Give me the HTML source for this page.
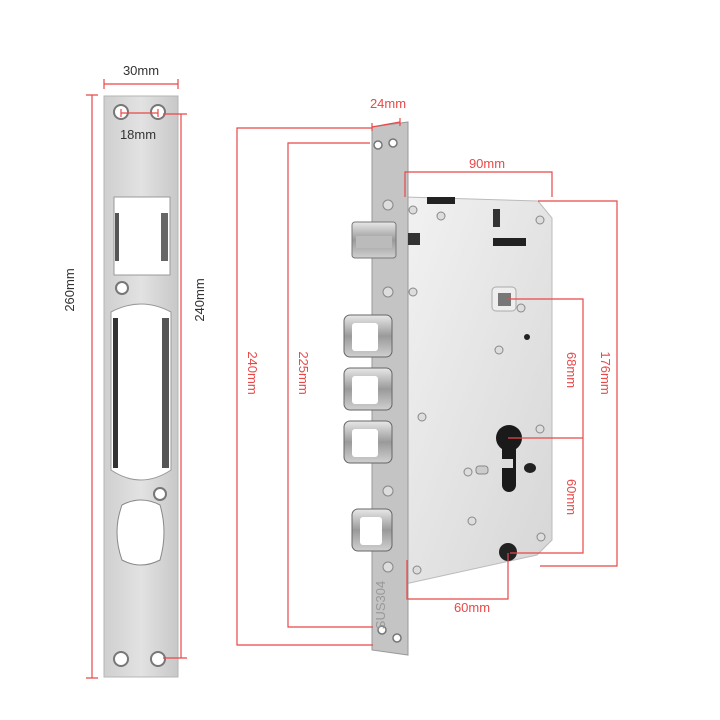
<!DOCTYPE html>
<html><head><meta charset="utf-8"><style>
html,body{margin:0;padding:0;background:#fff;width:720px;height:720px;overflow:hidden}
svg{display:block}
text{font-family:"Liberation Sans",sans-serif;font-size:13px}
</style></head><body>
<svg width="720" height="720" viewBox="0 0 720 720">
<defs>
<linearGradient id="st" x1="0" x2="1"><stop offset="0" stop-color="#cfcfcf"/><stop offset="0.5" stop-color="#e2e2e2"/><stop offset="1" stop-color="#c8c8c8"/></linearGradient>
<linearGradient id="cs" x1="0" x2="1" y1="0" y2="1"><stop offset="0" stop-color="#f2f2f2"/><stop offset="1" stop-color="#d6d6d6"/></linearGradient>
<linearGradient id="bl" x1="0" x2="0" y1="0" y2="1"><stop offset="0" stop-color="#e8e8e8"/><stop offset="0.5" stop-color="#9a9a9a"/><stop offset="1" stop-color="#d0d0d0"/></linearGradient>
</defs>
<!-- strike plate -->
<rect x="104" y="96" width="74" height="581" fill="url(#st)" stroke="#b5b5b5"/>
<g fill="#fff" stroke="#777" stroke-width="2">
<circle cx="121" cy="112" r="7"/><circle cx="158" cy="112" r="7"/>
<circle cx="121" cy="659" r="7"/><circle cx="158" cy="659" r="7"/>
<circle cx="122" cy="288" r="6"/><circle cx="160" cy="494" r="6"/>
</g>
<rect x="114" y="197" width="56" height="78" fill="#fff" stroke="#999"/>
<rect x="115" y="213" width="4" height="48" fill="#555"/><rect x="161" y="213" width="7" height="48" fill="#666"/>
<path d="M111 312 Q141 296 171 312 L171 470 Q141 490 111 470 Z" fill="#fff" stroke="#999"/>
<rect x="113" y="318" width="5" height="150" fill="#333"/><rect x="162" y="318" width="7" height="150" fill="#555"/>
<path d="M122 505 Q141 495 160 505 Q168 532 160 560 Q141 570 122 560 Q112 532 122 505 Z" fill="#fff" stroke="#888"/>
<!-- strike dims -->
<g stroke="#e84848" stroke-width="1.2" fill="none">
<path d="M104 84H178M104 79V89M178 79V89"/>
<path d="M121 113H158M121 109V117M158 109V117"/>
<path d="M92 95V678M86 95H98M86 678H98"/>
<path d="M181 114V658M163 114H187M163 658H187"/>
</g>
<text x="141" y="75" text-anchor="middle" fill="#333">30mm</text>
<text x="138" y="139" text-anchor="middle" fill="#333">18mm</text>
<text transform="translate(74,290) rotate(-90)" text-anchor="middle" fill="#333">260mm</text>
<text transform="translate(204,300) rotate(-90)" text-anchor="middle" fill="#333">240mm</text>
<!-- case -->
<path d="M405 197 L538 201 L552 218 L552 540 L537 555 L405 584 Z" fill="url(#cs)" stroke="#bbb"/>
<!-- faceplate -->
<path d="M372 127 L408 122 L408 655 L372 650 Z" fill="#c4c4c4" stroke="#999"/>
<g fill="#fff" stroke="#777" stroke-width="1.5">
<circle cx="378" cy="145" r="4"/><circle cx="393" cy="143" r="4"/>
<circle cx="382" cy="630" r="4"/><circle cx="397" cy="638" r="4"/>
</g>
<g fill="#ddd" stroke="#888"><circle cx="388" cy="205" r="5"/><circle cx="388" cy="292" r="5"/><circle cx="388" cy="491" r="5"/><circle cx="388" cy="567" r="5"/></g>
<text transform="translate(385,605) rotate(-90)" text-anchor="middle" fill="#999" font-size="10">SUS304</text>
<!-- lock bolts (in front) -->
<rect x="352" y="222" width="44" height="36" rx="3" fill="url(#bl)" stroke="#777"/>
<rect x="356" y="236" width="36" height="12" fill="#bbb"/>
<g fill="url(#bl)" stroke="#666">
<rect x="344" y="315" width="48" height="42" rx="6"/>
<rect x="344" y="368" width="48" height="42" rx="6"/>
<rect x="344" y="421" width="48" height="42" rx="6"/>
<rect x="352" y="509" width="40" height="42" rx="6"/>
</g>
<g fill="#fff"><rect x="352" y="323" width="26" height="28" rx="3"/><rect x="352" y="376" width="26" height="28" rx="3"/><rect x="352" y="429" width="26" height="28" rx="3"/><rect x="360" y="517" width="22" height="28" rx="3"/></g>
<!-- case details -->
<rect x="427" y="197" width="28" height="7" fill="#222"/>
<rect x="493" y="209" width="7" height="18" fill="#333"/>
<rect x="493" y="238" width="33" height="8" fill="#222"/>
<rect x="408" y="233" width="12" height="12" fill="#333"/>
<rect x="492" y="287" width="24" height="24" rx="4" fill="#eee" stroke="#aaa"/>
<rect x="498" y="293" width="13" height="13" fill="#777"/>
<circle cx="509" cy="438" r="13" fill="#1a1a1a"/>
<rect x="502" y="438" width="14" height="54" rx="7" fill="#1a1a1a"/>
<rect x="502" y="459" width="11" height="9" fill="#ddd"/>
<rect x="476" y="466" width="12" height="8" rx="3" fill="#ccc" stroke="#888"/>
<ellipse cx="530" cy="468" rx="6" ry="5" fill="#222"/>
<circle cx="508" cy="552" r="9" fill="#222"/>
<g fill="#ddd" stroke="#888">
<circle cx="413" cy="210" r="4"/><circle cx="441" cy="216" r="4"/><circle cx="540" cy="220" r="4"/><circle cx="413" cy="292" r="4"/>
<circle cx="499" cy="350" r="4"/><circle cx="521" cy="308" r="4"/><circle cx="422" cy="417" r="4"/><circle cx="540" cy="429" r="4"/>
<circle cx="468" cy="472" r="4"/><circle cx="472" cy="521" r="4"/><circle cx="541" cy="537" r="4"/><circle cx="417" cy="570" r="4"/>
</g>
<circle cx="527" cy="337" r="3" fill="#222"/>
<!-- lock dims -->
<g stroke="#e84848" stroke-width="1.2" fill="none">
<path d="M372 128H237V645H373"/>
<path d="M370 143H288V627H373"/>
<path d="M372 127L400 122M372 123V131M400 118V126"/>
<path d="M405 197V172H552V197"/>
<path d="M538 201H617V566H540"/>
<path d="M508 299H583V553H510M508 438H583"/>
<path d="M407 560V599H508V553"/>
</g>
<g fill="#e84848">
<text x="388" y="108" text-anchor="middle">24mm</text>
<text x="487" y="168" text-anchor="middle">90mm</text>
<text x="472" y="612" text-anchor="middle">60mm</text>
<text transform="translate(248,373) rotate(90)" text-anchor="middle">240mm</text>
<text transform="translate(299,373) rotate(90)" text-anchor="middle">225mm</text>
<text transform="translate(567,370) rotate(90)" text-anchor="middle">68mm</text>
<text transform="translate(567,497) rotate(90)" text-anchor="middle">60mm</text>
<text transform="translate(601,373) rotate(90)" text-anchor="middle">176mm</text>
</g>
</svg>
</body></html>
